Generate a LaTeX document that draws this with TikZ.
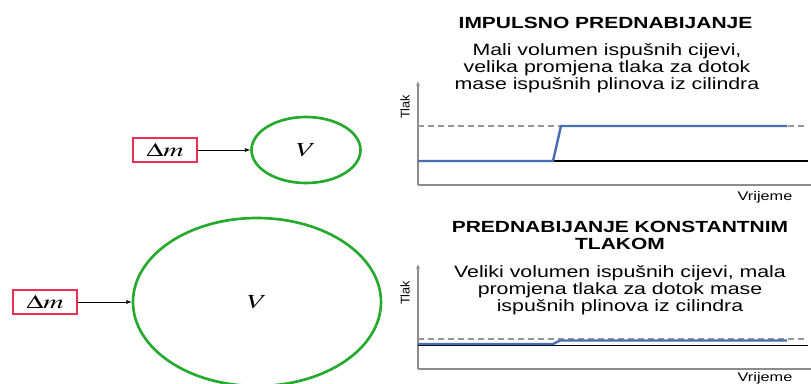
\documentclass[tikz,border=0pt]{standalone}
\usepackage{mathptmx}
\usepackage{fontspec}
\usepackage{graphicx}
\usetikzlibrary{arrows.meta,shapes.geometric}
\newfontfamily\chartfont[FakeStretch=1.3]{Liberation Sans}
\newfontfamily\axisfont{Liberation Sans}
\definecolor{boxred}{RGB}{232,48,84}
\definecolor{volgreen}{RGB}{38,170,46}
\definecolor{curveblue}{RGB}{72,108,178}
\definecolor{axisgray}{RGB}{140,140,140}
\definecolor{dashgray}{RGB}{150,150,150}
\newcommand{\widemath}[1]{\scalebox{1.45}[1]{$#1$}}
\begin{document}
\begin{tikzpicture}[x=0.75pt,y=0.75pt,yscale=-1,xscale=1,
  massbox/.style={draw=boxred,line width=1.3pt,minimum width=48pt,minimum height=18pt,inner sep=0pt,font=\fontsize{14.5}{16}\selectfont},
  volume/.style={ellipse,draw=volgreen,line width=2pt,inner sep=0pt,font=\fontsize{15}{17}\selectfont},
  feed/.style={-{Latex[length=4pt,width=3pt]},line width=0.5pt},
  axis/.style={draw=axisgray,line width=0.8pt},
  level/.style={line width=0.8pt},
  guide/.style={draw=dashgray,line width=0.8pt,dash pattern={on 4.5pt off 3pt}},
  curve/.style={draw=curveblue,line width=1.8pt},
  heading/.style={font=\chartfont\bfseries\fontsize{12.1}{12.75}\selectfont,align=center,inner sep=0pt},
  remark/.style={font=\chartfont\fontsize{12.3}{12.75}\selectfont,align=center,inner sep=0pt},
  tlak/.style={font=\axisfont\fontsize{9.5}{11}\selectfont,rotate=90,inner sep=0pt},
  vrijeme/.style={font=\chartfont\fontsize{9.4}{11}\selectfont,anchor=base,inner sep=0pt}]
\useasboundingbox (0,0) rectangle (811,383);

%Mass inflow, small volume
\node[massbox] (dm1) at (165,150) {\widemath{\Delta m}};
\node[volume,minimum width=81.75pt,minimum height=49.5pt] (v1) at (306,150) {\widemath{V}};
\draw[feed] (dm1) -- (v1);

%Mass inflow, large volume
\node[massbox] (dm2) at (45,302) {\widemath{\Delta m}};
\node[volume,minimum width=186pt,minimum height=126pt] (v2) at (257,302) {\widemath{V}};
\draw[feed] (dm2) -- (v2);

%Chart: impulsno prednabijanje
\draw[axis,-{Latex[length=3.5pt,width=3pt]}] (418,185) -- (418,81);
\draw[axis] (418,185) -- (811,185);
\draw[guide] (418,126) -- (808,126);
\draw[level] (418,161) -- (808,161);
\draw[curve] (418,161) -- (553,161) -- (561,126) -- (787,126);

% Text Node
\node[heading,anchor=base] (head1) at (605.5,28) {IMPULSNO PREDNABIJANJE};
% Text Node
\node[remark,anchor=north] (note1) at (607,43) {Mali volumen ispušnih cijevi,\\velika promjena tlaka za dotok\\mase ispušnih plinova iz cilindra};
% Text Node
\node[tlak] (tlak1) at (405,107) {Tlak};
% Text Node
\node[vrijeme] (time1) at (765,200) {Vrijeme};

%Chart: prednabijanje konstantnim tlakom
\draw[axis,-{Latex[length=3.5pt,width=3pt]}] (418,369) -- (418,264);
\draw[axis] (418,369) -- (811,369);
\draw[guide] (418,339) -- (808,339);
\draw[level] (418,345.5) -- (808,345.5);
\draw[curve] (418,344) -- (553,344) -- (560,340.5) -- (787,340.5);

% Text Node
\node[heading,anchor=north] (head2) at (620,220.5) {PREDNABIJANJE KONSTANTNIM\\TLAKOM};
% Text Node
\node[remark,anchor=north] (note2) at (620,265) {Veliki volumen ispušnih cijevi, mala\\promjena tlaka za dotok mase\\ispušnih plinova iz cilindra};
% Text Node
\node[tlak] (tlak2) at (405,293) {Tlak};
% Text Node
\node[vrijeme] (time2) at (765,381) {Vrijeme};

\end{tikzpicture}
\end{document}
